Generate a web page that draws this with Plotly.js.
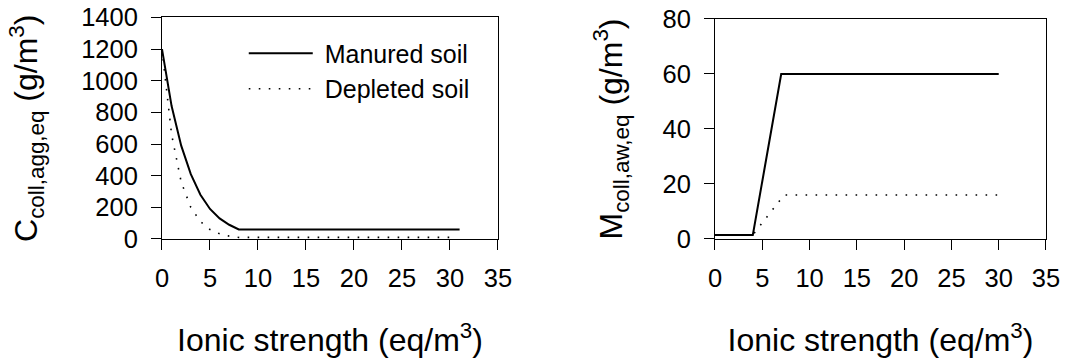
<!DOCTYPE html>
<html>
<head>
<meta charset="utf-8">
<script src="https://cdn.plot.ly/plotly-3.0.1.min.js"></script>
<style>html,body{margin:0;padding:0;background:#fff;}#chart{width:1071px;height:358px;}</style>
</head>
<body>
<div id="chart"></div>
<script>
// Left panel: aggregated colloid concentration vs ionic strength
var leftManuredX = [0, 1, 2, 3, 4, 5, 6, 7, 8, 31];
var leftManuredY = [1200, 840, 590, 410, 280, 190, 130, 90, 60, 60];
var leftDepletedX = [0, 1, 2, 3, 4, 5, 6, 7, 8, 30];
var leftDepletedY = [1200, 660, 360, 200, 110, 60, 33, 18, 10, 10];

// Right panel: colloid mass at air-water interface vs ionic strength
var rightManuredX = [0, 4, 7, 30];
var rightManuredY = [1.5, 1.5, 60, 60];
var rightDepletedX = [0, 4, 7.3, 30];
var rightDepletedY = [1.5, 1.5, 16, 16];

var seriesNames = ['Manured soil', 'Depleted soil'];
var xTitle = 'Ionic strength (eq/m<sup>3</sup>)';
var leftYTitle = 'C<sub>coll,agg,eq</sub> (g/m<sup>3</sup>)';
var rightYTitle = 'M<sub>coll,aw,eq</sub> (g/m<sup>3</sup>)';

var FONT = 'Liberation Sans, Arial, Helvetica, sans-serif';
var dotted = {color: '#000', width: 1.6, dash: '1.6px,8.4px'};
var solid = {color: '#000', width: 2};

var traces = [
  {x: leftManuredX, y: leftManuredY, mode: 'lines', name: '\u00a0' + seriesNames[0], line: solid, xaxis: 'x', yaxis: 'y', showlegend: true},
  {x: leftDepletedX, y: leftDepletedY, mode: 'lines', name: '\u00a0' + seriesNames[1], line: dotted, xaxis: 'x', yaxis: 'y', showlegend: true},
  {x: rightManuredX, y: rightManuredY, mode: 'lines', name: seriesNames[0], line: solid, xaxis: 'x2', yaxis: 'y2', showlegend: false},
  {x: rightDepletedX, y: rightDepletedY, mode: 'lines', name: seriesNames[1], line: dotted, xaxis: 'x2', yaxis: 'y2', showlegend: false}
];

function xAxis(domain, anchor) {
  return {
    domain: domain, anchor: anchor, range: [0, 35], tickvals: [0,5,10,15,20,25,30,35],
    showline: true, mirror: true, linecolor: '#000', linewidth: 1,
    ticks: 'outside', ticklen: 10, tickwidth: 1, tickcolor: '#000',
    showgrid: false, zeroline: false, fixedrange: true,
    tickfont: {family: FONT, size: 25.5, color: '#000'},
    ticklabelstandoff: 6,
    title: {text: xTitle, font: {family: FONT, size: 32, color: '#000'}, standoff: 46}
  };
}
function yAxis(domain, anchor, range, dtick, title, standoff) {
  return {
    domain: domain, anchor: anchor, range: range, dtick: dtick, tick0: 0,
    showline: true, mirror: true, linecolor: '#000', linewidth: 1,
    ticks: 'outside', ticklen: 10, tickwidth: 1, tickcolor: '#000',
    showgrid: false, zeroline: false, fixedrange: true,
    tickfont: {family: FONT, size: 25.5, color: '#000'},
    ticklabelstandoff: 8,
    title: {text: title, font: {family: FONT, size: 32, color: '#000'}, standoff: standoff}
  };
}

var layout = {
  width: 1071, height: 358,
  margin: {l: 0, r: 0, t: 0, b: 0},
  paper_bgcolor: '#fff', plot_bgcolor: '#fff',
  font: {family: FONT, color: '#000'},
  xaxis: xAxis([0.15126, 0.46499], 'y'),
  yaxis: yAxis([0.33240, 0.95112], 'x', [0, 1400], 200, leftYTitle, 33),
  xaxis2: xAxis([0.66760, 0.97666], 'y2'),
  yaxis2: yAxis([0.33240, 0.94693], 'x2', [0, 80], 20, rightYTitle, 30),
  showlegend: true,
  legend: {
    x: 0.2276, y: 0.915, xanchor: 'left', yanchor: 'top',
    bgcolor: 'rgba(0,0,0,0)', borderwidth: 0,
    font: {family: FONT, size: 25, color: '#000'},
    itemwidth: 64, tracegroupgap: 0
  }
};

Plotly.newPlot('chart', traces, layout, {staticPlot: true, displayModeBar: false});
</script>
</body>
</html>
